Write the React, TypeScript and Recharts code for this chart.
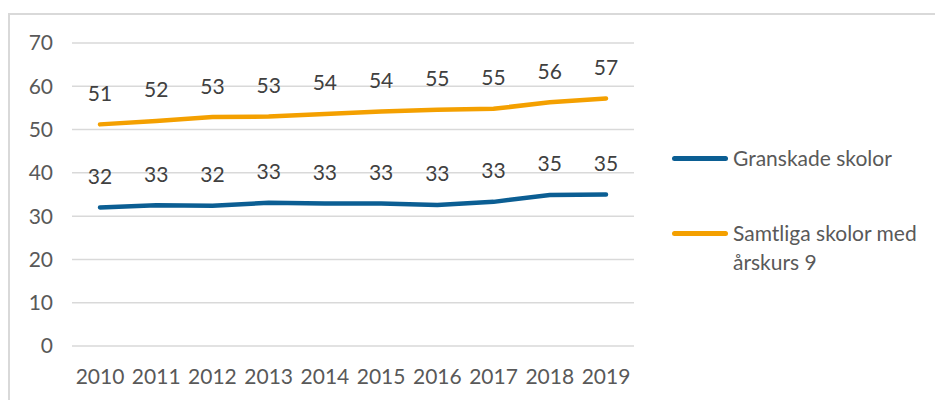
import { LineChart, Line, XAxis, YAxis, CartesianGrid, LabelList } from 'recharts';

const years = ['2010', '2011', '2012', '2013', '2014', '2015', '2016', '2017', '2018', '2019'];
const granskade = [32.0, 32.5, 32.4, 33.1, 32.9, 32.9, 32.6, 33.3, 34.9, 35.0];
const samtliga = [51.2, 52.0, 52.9, 53.0, 53.6, 54.2, 54.6, 54.8, 56.3, 57.2];
const yTicks = [0, 10, 20, 30, 40, 50, 60, 70];

const BLUE = '#0b5e93';
const ORANGE = '#f4a000';
const FONT = 'Lato, "Open Sans", sans-serif';
const FS = 21;

const data = years.map((year, i) => ({ year, granskade: granskade[i], samtliga: samtliga[i] }));

const series = [
  { key: 'granskade', name: 'Granskade skolor', color: BLUE },
  { key: 'samtliga', name: 'Samtliga skolor med årskurs 9', color: ORANGE },
];

const renderLabel = (props: any) => {
  const { x, y, value } = props;
  return (
    <text x={x} y={y - 32} textAnchor="middle" dominantBaseline="central" fill="#404040" fontSize={FS} fontFamily={FONT}>
      {Math.round(Number(value))}
    </text>
  );
};

function ChartLegend() {
  return (
    <div style={{ position: 'absolute', left: 664, top: 135, width: 270, fontFamily: FONT, fontSize: FS, color: '#595959' }}>
      {series.map((s, i) => (
        <div key={s.key} style={{ display: 'flex', alignItems: 'flex-start', marginTop: i === 0 ? 0 : 46 }}>
          <div style={{ width: 56, height: 5, borderRadius: 3, background: s.color, marginTop: 13, marginRight: 5, flexShrink: 0 }} />
          <div style={{ width: 205, lineHeight: '29px' }}>{s.name}</div>
        </div>
      ))}
    </div>
  );
}

export default function App() {
  return (
    <div style={{ position: 'relative', width: 935, height: 392, overflow: 'hidden' }}>
      <div
        style={{
          position: 'absolute',
          left: 0,
          top: 5,
          width: 1000,
          height: 500,
          border: '2px solid #d9d9d9',
          boxSizing: 'border-box',
        }}
      />
      <div style={{ position: 'absolute', left: 0, top: 0 }}>
        <LineChart width={935} height={392} data={data} margin={{ top: 35, right: 309, left: 0, bottom: 24 }}>
          <CartesianGrid vertical={false} stroke="#d9d9d9" strokeWidth={1.5} />
          <XAxis
            dataKey="year"
            axisLine={false}
            tickLine={false}
            tickSize={0}
            tickMargin={23}
            height={30}
            interval={0}
            padding={{ left: 28, right: 28 }}
            tick={{ fill: '#595959', fontSize: FS, fontFamily: FONT }}
          />
          <YAxis
            domain={[0, 70]}
            ticks={yTicks}
            axisLine={false}
            tickLine={false}
            tickSize={0}
            tickMargin={19}
            width={64}
            tick={{ fill: '#595959', fontSize: FS, fontFamily: FONT }}
          />
          {series.map((s) => (
            <Line
              key={s.key}
              type="linear"
              dataKey={s.key}
              name={s.name}
              stroke={s.color}
              strokeWidth={4.5}
              strokeLinecap="round"
              dot={false}
              activeDot={false}
              isAnimationActive={false}
            >
              <LabelList dataKey={s.key} content={renderLabel} />
            </Line>
          ))}
        </LineChart>
      </div>
      <ChartLegend />
    </div>
  );
}
